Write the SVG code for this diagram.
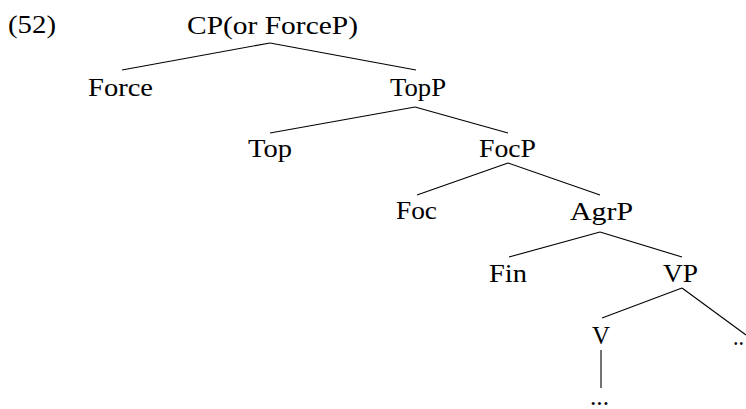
<svg xmlns="http://www.w3.org/2000/svg" width="746" height="409" viewBox="0 0 746 409">
<style>
text { font-family: "Liberation Serif", "Times New Roman", serif; font-size: 26px; fill: #000; }
line { stroke: #000; stroke-width: 1.1; }
</style>
<rect width="746" height="409" fill="#fff"/>
<g id="label"><text x="8" y="33" textLength="48" lengthAdjust="spacingAndGlyphs">(52)</text></g>
<g id="edges">
<line x1="270" y1="43" x2="122" y2="70"/>
<line x1="270" y1="43" x2="416" y2="70"/>
<line x1="415" y1="107" x2="270" y2="133"/>
<line x1="415" y1="107" x2="508" y2="133"/>
<line x1="508" y1="163" x2="417" y2="195"/>
<line x1="508" y1="163" x2="600" y2="195"/>
<line x1="600" y1="232" x2="509" y2="257"/>
<line x1="600" y1="232" x2="682" y2="257"/>
<line x1="682" y1="288" x2="602" y2="318"/>
<line x1="682" y1="288" x2="746" y2="335"/>
<line x1="601" y1="350" x2="601" y2="388"/>
</g>
<g id="cp"><text x="187" y="34" textLength="171" lengthAdjust="spacingAndGlyphs">CP(or ForceP)</text></g>
<g id="force"><text x="88" y="96" textLength="65" lengthAdjust="spacingAndGlyphs">Force</text></g>
<g id="topp"><text x="390" y="96" textLength="56" lengthAdjust="spacingAndGlyphs">TopP</text></g>
<g id="top"><text x="248" y="157" textLength="44" lengthAdjust="spacingAndGlyphs">Top</text></g>
<g id="focp"><text x="479" y="157" textLength="57" lengthAdjust="spacingAndGlyphs">FocP</text></g>
<g id="foc"><text x="396" y="219" textLength="41" lengthAdjust="spacingAndGlyphs">Foc</text></g>
<g id="agrp"><text x="570" y="220" textLength="63" lengthAdjust="spacingAndGlyphs">AgrP</text></g>
<g id="fin"><text x="489" y="282" textLength="38" lengthAdjust="spacingAndGlyphs">Fin</text></g>
<g id="vp"><text x="663" y="282" textLength="35" lengthAdjust="spacingAndGlyphs">VP</text></g>
<g id="v"><text x="592" y="344" textLength="18" lengthAdjust="spacingAndGlyphs">V</text></g>
<g id="dots-right"><text x="733" y="345" textLength="11" lengthAdjust="spacingAndGlyphs">..</text></g>
<g id="dots-v"><text x="590" y="405" textLength="19" lengthAdjust="spacingAndGlyphs">...</text></g>
</svg>
